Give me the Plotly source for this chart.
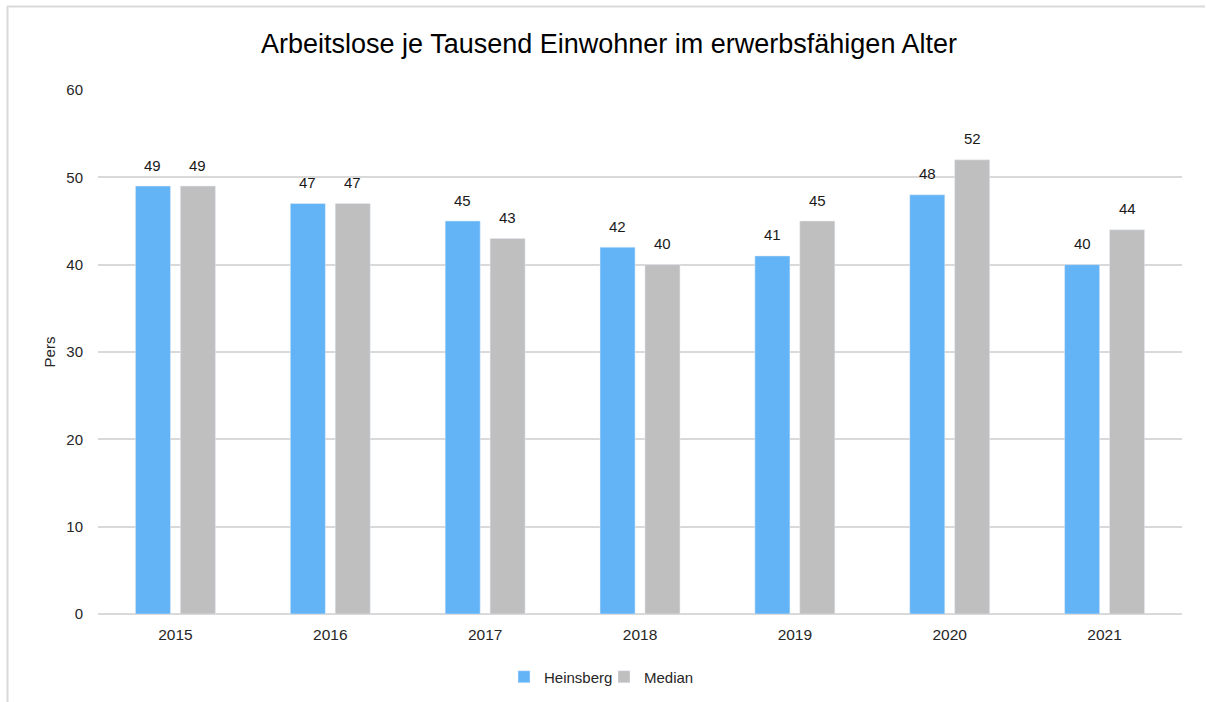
import plotly.graph_objects as go

years = ["2015", "2016", "2017", "2018", "2019", "2020", "2021"]
heinsberg = [49, 47, 45, 42, 41, 48, 40]
median = [49, 47, 43, 40, 45, 52, 44]

FONT = "Liberation Sans, Arial, sans-serif"
TXT = "#262626"

L, R, T, B = 98, 24, 90, 88
W, H = 1206, 702
pw, ph = W - L - R, H - T - B

def px(x):
    return (x - L) / pw

def py(y):
    return (H - B - y) / ph

fig = go.Figure()
fig.add_trace(go.Bar(x=years, y=heinsberg, name="Heinsberg", marker_color="#63B4F6"))
fig.add_trace(go.Bar(x=years, y=median, name="Median", marker_color="#BFBFBF"))

# data labels above the bars (category index + pixel offset within the group)
slot = pw / len(years) * (1 - 0.42) / 2
annotations = []
for vals, sh in ((heinsberg, -slot / 2), (median, slot / 2)):
    for i, v in enumerate(vals):
        annotations.append(dict(x=i, y=v, xref="x", yref="y", text=str(v), showarrow=False,
                                xshift=sh, yshift=21, yanchor="middle",
                                font=dict(size=15, color="#1a1a1a")))

fig.update_layout(
    width=W, height=H,
    margin=dict(l=L, r=R, t=T, b=B, autoexpand=False),
    paper_bgcolor="white", plot_bgcolor="white",
    font=dict(family=FONT, size=15, color=TXT),
    title=dict(text="Arbeitslose je Tausend Einwohner im erwerbsfähigen Alter",
               x=609 / W, xref="container", xanchor="center", y=1 - 44 / H, yanchor="middle",
               font=dict(size=27, color="#000000")),
    barmode="group", bargap=0.42, bargroupgap=0.22,
    showlegend=True,
    legend=dict(orientation="h", x=px(604), xanchor="center", y=py(677), yanchor="middle",
                font=dict(size=15, color=TXT), itemwidth=30, traceorder="normal",
                entrywidth=55, entrywidthmode="pixels"),
    xaxis=dict(type="category", categoryorder="array", categoryarray=years,
               range=[-0.5, len(years) - 0.5], autorange=False,
               showgrid=False, showline=False, ticks="", ticklabelstandoff=9,
               tickfont=dict(size=15.5, color=TXT)),
    yaxis=dict(range=[0, 60], dtick=10, showgrid=True, gridcolor="#D9D9D9", gridwidth=1.5,
               zeroline=True, zerolinecolor="#D9D9D9", zerolinewidth=2,
               ticks="", ticklabelstandoff=14, tickfont=dict(size=15, color=TXT),
               title=dict(text="Pers", font=dict(size=15, color=TXT), standoff=7)),
    annotations=annotations,
    shapes=[
        dict(type="line", xref="paper", yref="paper", x0=px(7), x1=px(1205), y0=py(6.5), y1=py(6.5),
             line=dict(color="#D9D9D9", width=2)),
        dict(type="line", xref="paper", yref="paper", x0=px(7.5), x1=px(7.5), y0=py(6), y1=py(702),
             line=dict(color="#D9D9D9", width=2)),
    ],
)

fig.write_html("out.html", config={"displayModeBar": False},
               post_script="document.body.style.margin='0';document.body.style.overflow='hidden';")
